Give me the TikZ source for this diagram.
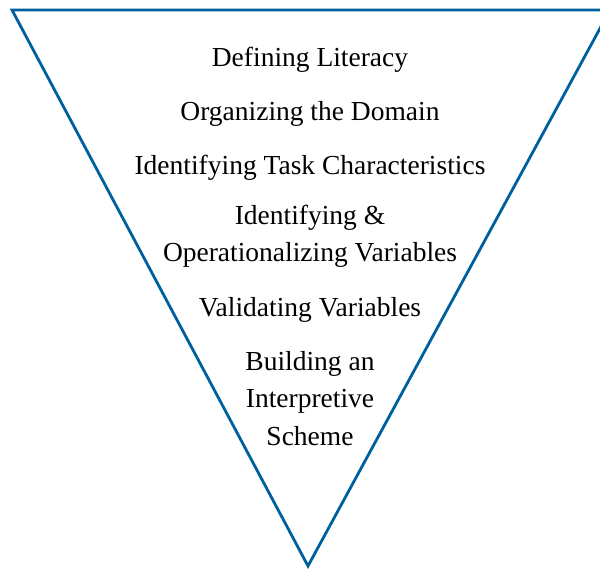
\documentclass[tikz,border=0pt]{standalone}
\usepackage{fontspec}
\setmainfont{Liberation Serif}
\usepackage{xcolor}
\definecolor{funnelblue}{RGB}{0,95,158}

\begin{document}
\begin{tikzpicture}[x=1pt, y=-1pt,
	stage/.style={anchor=base, align=center, inner sep=0pt, font=\fontsize{27.5}{37.5}\selectfont}]
	\useasboundingbox (0, 0) rectangle (600, 569);
	% funnel
	\coordinate (tl) at (12, 10);
	\coordinate (tr) at (610, 10);
	\coordinate (tip) at (308, 566);
	\draw[funnelblue, line width=2.8pt] (tl) -- (tr) -- (tip) -- cycle;
	% stages (base = last line)
	\node (s1) [stage] at (310, 67) {Defining Literacy};
	\node (s2) [stage] at (310, 121) {Organizing the Domain};
	\node (s3) [stage] at (310, 175) {Identifying Task Characteristics};
	\node (s4) [stage] at (310, 262) {Identifying \&\\Operationalizing Variables};
	\node (s5) [stage] at (310, 317) {Validating Variables};
	\node (s6) [stage] at (310, 445) {Building an\\Interpretive\\Scheme};
\end{tikzpicture}
\end{document}
